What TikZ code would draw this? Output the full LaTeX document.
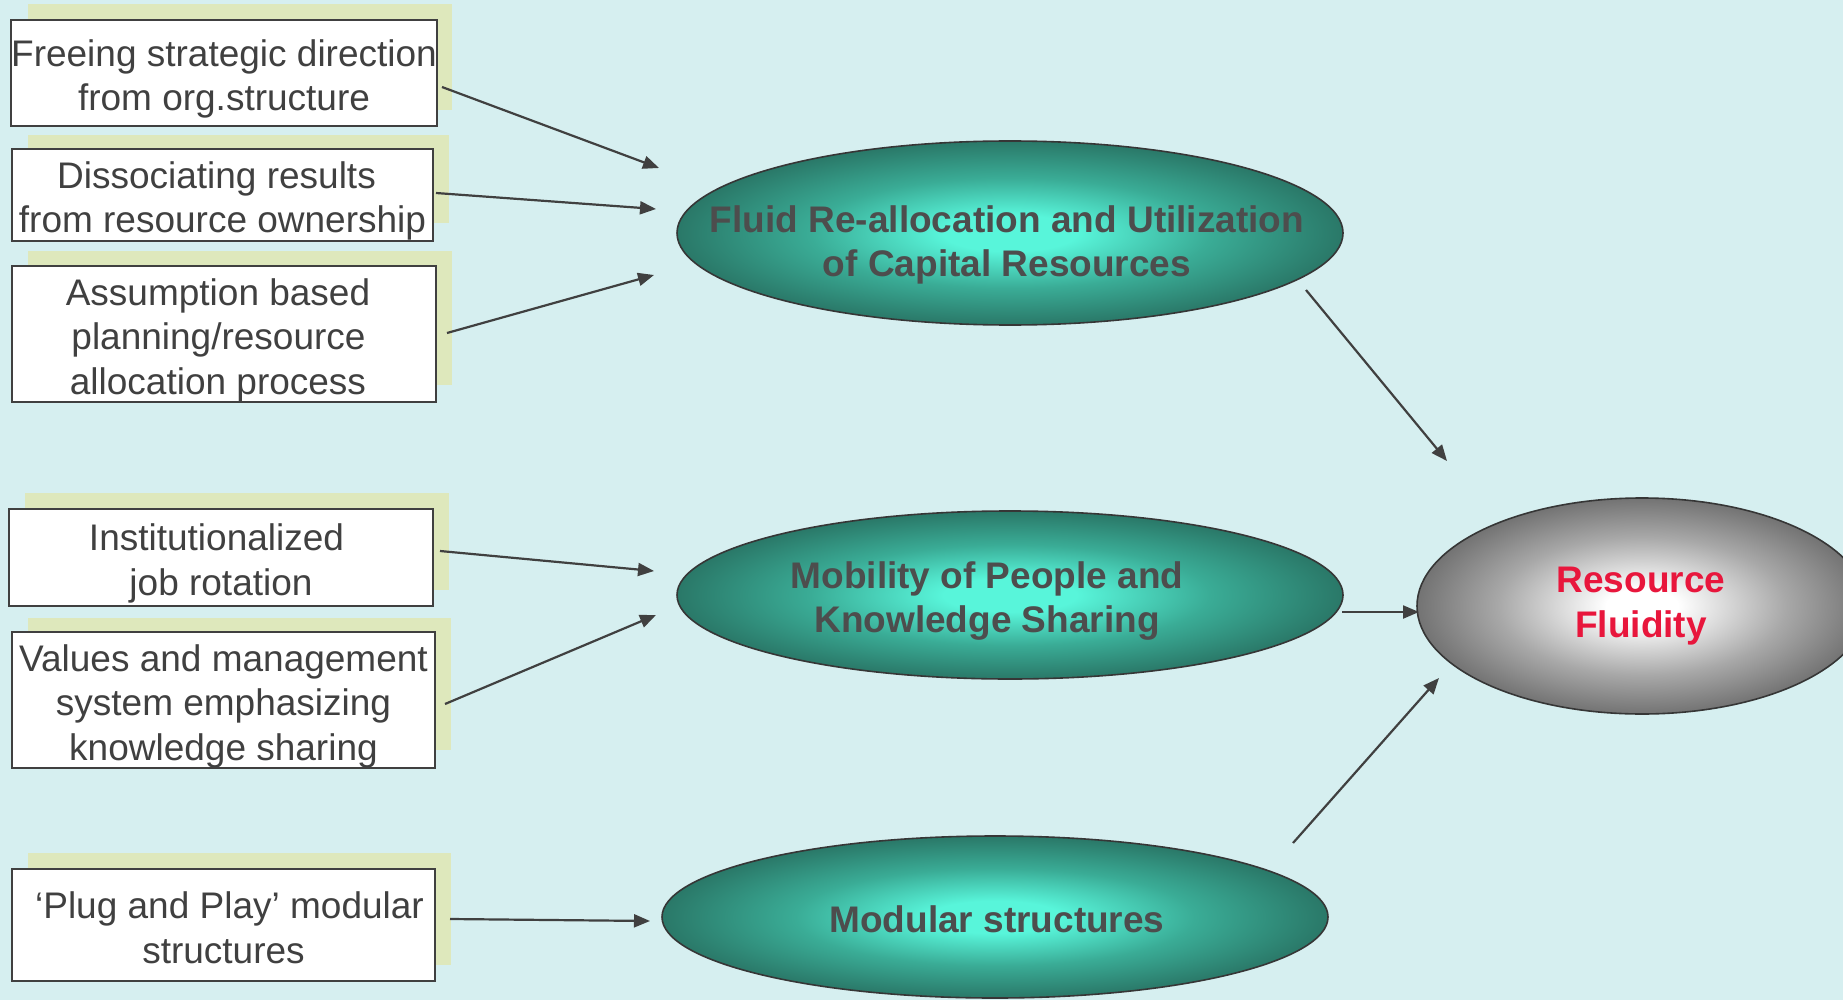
\documentclass[tikz,border=0pt]{standalone}
\usepackage{fontspec}
\setmainfont{Liberation Sans}
\usetikzlibrary{arrows.meta,shapes.geometric}

\definecolor{bg}{RGB}{214,239,240}
\definecolor{shadowfill}{RGB}{222,232,188}
\definecolor{ink}{RGB}{64,64,64}
\definecolor{etext}{RGB}{77,77,77}
\definecolor{tealC}{RGB}{88,245,218}
\definecolor{tealM}{RGB}{58,172,150}
\definecolor{tealD}{RGB}{42,120,104}
\definecolor{grayC}{RGB}{255,255,255}
\definecolor{grayM}{RGB}{168,168,168}
\definecolor{grayD}{RGB}{115,115,115}
\definecolor{fluidred}{RGB}{232,22,60}

% radial glows for the ellipses (stretched to each ellipse's box)
\pgfdeclareradialshading{tealglow}{\pgfpointorigin}{color(0bp)=(tealC); color(5bp)=(tealC); color(15bp)=(tealM); color(25bp)=(tealD); color(50bp)=(tealD)}
\pgfdeclareradialshading{grayglow}{\pgfpointorigin}{color(0bp)=(grayC); color(4bp)=(grayC); color(16bp)=(grayM); color(25bp)=(grayD); color(50bp)=(grayD)}

% taller first line, so box texts sit a little below the box centre
\newcommand\padtop{\rule{0pt}{39pt}}
% invisible horizontal padding that nudges a centred line sideways
\newcommand\padx[1]{\rule{#1}{0pt}}

\tikzset{
  factor/.style={draw=ink, line width=2pt, fill=white, text=ink, align=center,
    inner sep=0pt, font=\fontsize{37}{44.5}\selectfont},
  backing/.style={fill=shadowfill, draw=none, inner sep=0pt},
  hub/.style={ellipse, draw=ink!85!black, line width=1.6pt, shade, shading=tealglow, inner sep=0pt},
  goal/.style={ellipse, draw=ink!85!black, line width=1.6pt, shade, shading=grayglow, inner sep=0pt},
  hubtext/.style={text=etext, align=center, inner sep=0pt,
    font=\bfseries\fontsize{37}{44.5}\selectfont},
  goaltext/.style={text=fluidred, align=center, inner sep=0pt,
    font=\bfseries\fontsize{37}{44.5}\selectfont},
  link/.style={draw=ink, line width=2.2pt, -{Triangle[length=16pt,width=13pt]}}
}

\begin{document}
\begin{tikzpicture}[x=1pt,y=-1pt]
  \useasboundingbox (0,0) rectangle (1843,1000);
  \clip (0,0) rectangle (1843,1000);
  \fill[bg] (0,0) rectangle (1843,1000);

  % pale backing cards
  \node[backing, minimum width=424pt, minimum height=106pt] (s1) at (240,57) {};
  \node[backing, minimum width=421pt, minimum height=88pt]  (s2) at (238,179) {};
  \node[backing, minimum width=424pt, minimum height=134pt] (s3) at (240,318) {};
  \node[backing, minimum width=424pt, minimum height=97pt]  (s4) at (237,541) {};
  \node[backing, minimum width=423pt, minimum height=132pt] (s5) at (239,684) {};
  \node[backing, minimum width=423pt, minimum height=112pt] (s6) at (239,909) {};

  % factor boxes
  \node[factor, minimum width=424pt, minimum height=106pt] (b1) at (224,73)
    {\padtop Freeing strategic direction\\from org.structure};
  \node[factor, minimum width=421pt, minimum height=88pt] (b2) at (222.5,195)
    {\padtop Dissociating results\padx{12pt}\\from resource ownership};
  \node[factor, minimum width=424pt, minimum height=134pt] (b3) at (224,334)
    {\padtop Assumption based\padx{12pt}\\planning/resource\padx{11pt}\\allocation process\padx{12pt}};
  \node[factor, minimum width=424pt, minimum height=97pt] (b4) at (221,557.5)
    {\padtop Institutionalized\padx{9pt}\\job rotation};
  \node[factor, minimum width=423pt, minimum height=132pt] (b5) at (223.5,700)
    {\padtop Values and management\\system emphasizing\\knowledge sharing};
  \node[factor, minimum width=423pt, minimum height=112pt] (b6) at (223.5,925)
    {\rule{0pt}{32pt}\padx{12pt}`Plug and Play' modular\\structures};

  % intermediate ellipses
  \node[hub, minimum width=666pt, minimum height=184pt] (e1) at (1010,233) {};
  \node[hubtext] (t1) at (1007,245) {Fluid Re-allocation and Utilization\\of Capital Resources};
  \node[hub, minimum width=666pt, minimum height=168pt] (e2) at (1010,595) {};
  \node[hubtext] (t2) at (987,601) {Mobility of People and\\Knowledge Sharing};
  \node[hub, minimum width=666pt, minimum height=162pt] (e3) at (995,917) {};
  \node[hubtext] (t3) at (997,919) {Modular structures};

  % outcome ellipse
  \node[goal, minimum width=450pt, minimum height=216pt] (e4) at (1642,606) {};
  \node[goaltext] (t4) at (1641,606) {Resource\\Fluidity};

  % connectors
  \draw[link] ([shift={(218,14)}]b1.center) -- ([shift={(-351,-65)}]e1.center);
  \draw[link] ([shift={(213.5,-2)}]b2.center) -- ([shift={(-354,-24)}]e1.center);
  \draw[link] ([shift={(223,-1)}]b3.center) -- ([shift={(-356,42)}]e1.center);
  \draw[link] ([shift={(219,-6.5)}]b4.center) -- ([shift={(-356,-24)}]e2.center);
  \draw[link] ([shift={(221.5,4)}]b5.center) -- ([shift={(-354,20)}]e2.center);
  \draw[link] ([shift={(226.5,-6)}]b6.center) -- ([shift={(-345,4)}]e3.center);
  \draw[link] ([shift={(296,57)}]e1.center) -- ([shift={(-195,-145)}]e4.center);
  \draw[link] ([shift={(332,17)}]e2.center) -- ([shift={(-223,6)}]e4.center);
  \draw[link] ([shift={(298,-74)}]e3.center) -- ([shift={(-203,72)}]e4.center);
\end{tikzpicture}
\end{document}
